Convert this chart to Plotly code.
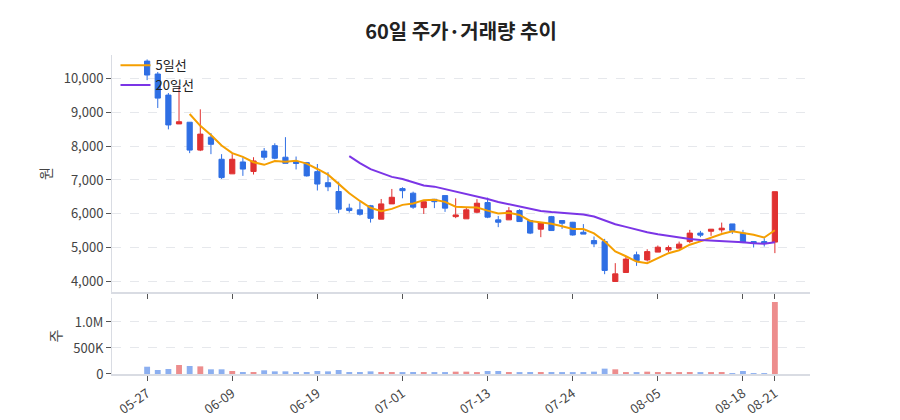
import plotly.graph_objects as go

# 60 trading days (MM-DD)
dates = ['05-27', '05-28', '05-29', '05-30', '06-02', '06-03', '06-04', '06-05', '06-09',
         '06-10', '06-11', '06-12', '06-13', '06-16', '06-17', '06-18', '06-19',
         '06-20', '06-23', '06-24', '06-25', '06-26', '06-27', '06-30', '07-01',
         '07-02', '07-03', '07-04', '07-07', '07-08', '07-09', '07-10', '07-13',
         '07-14', '07-15', '07-16', '07-17', '07-18', '07-21', '07-22', '07-24',
         '07-25', '07-28', '07-29', '07-30', '07-31', '08-01', '08-04', '08-05',
         '08-06', '08-07', '08-08', '08-11', '08-12', '08-13', '08-14', '08-18',
         '08-19', '08-20', '08-21']

opens = [10500, 10120, 9500, 8650, 8700, 7880, 8260, 7610, 7180, 7530,
         7250, 7850, 8010, 7670, 7545, 7510, 7245, 6920, 6660, 6170,
         6120, 6240, 5845, 6295, 6745, 6610, 6185, 6430, 6540, 5920,
         5855, 6050, 6335, 5825, 5825, 6100, 5805, 5550, 5920, 5805,
         5755, 5460, 5215, 5185, 4010, 4275, 4795, 4645, 4875, 4940,
         4990, 5185, 5435, 5490, 5530, 5705, 5435, 5185, 5185, 5170]
highs = [10550, 10180, 9560, 9780, 8700, 9080, 8380, 7760, 7760, 7660,
         7670, 7940, 8080, 8260, 7690, 7530, 7470, 7230, 6950, 6300,
         6360, 6265, 6440, 6735, 6785, 6655, 6360, 6440, 6540, 6460,
         6185, 6435, 6480, 5940, 6200, 6140, 5825, 5745, 5940, 5805,
         5765, 5700, 5335, 5265, 4550, 4730, 4890, 4960, 5070, 5070,
         5185, 5530, 5500, 5550, 5745, 5705, 5530, 5190, 5285, 6655]
lows = [9940, 9120, 8490, 8650, 7790, 7850, 7760, 7030, 7180, 7120,
        7160, 7590, 7610, 7490, 7310, 7100, 6690, 6670, 6020, 6040,
        5950, 5745, 5845, 6295, 6460, 6150, 6000, 6170, 6060, 5875,
        5855, 6020, 5875, 5610, 5825, 5775, 5405, 5315, 5500, 5560,
        5360, 5405, 5020, 4225, 4010, 4275, 4470, 4600, 4875, 4875,
        4990, 5140, 5315, 5355, 5450, 5410, 5140, 5010, 5040, 4845]
closes = [10090, 9410, 8620, 8715, 7880, 8350, 8050, 7070, 7610, 7320,
          7560, 7670, 7640, 7490, 7485, 7120, 6880, 6800, 6140, 6100,
          5990, 5870, 6295, 6490, 6685, 6200, 6360, 6360, 6170, 5970,
          6120, 6315, 5905, 5755, 6090, 5775, 5435, 5745, 5510, 5725,
          5380, 5405, 5120, 4335, 4235, 4670, 4625, 4890, 5020, 5010,
          5110, 5435, 5375, 5550, 5580, 5510, 5155, 5140, 5140, 6655]
volumes = [140000, 77000, 96000, 173000, 154000, 147000, 90000, 90000, 58000, 38000,
           38000, 71000, 51000, 51000, 38000, 38000, 58000, 51000, 77000, 38000,
           38000, 51000, 38000, 38000, 30000, 38000, 38000, 19000, 19000, 45000,
           45000, 19000, 58000, 58000, 38000, 19000, 38000, 38000, 38000, 19000,
           19000, 19000, 45000, 103000, 90000, 19000, 19000, 45000, 38000, 19000,
           19000, 38000, 19000, 19000, 38000, 8000, 58000, 8000, 15000, 1385000]

tick_dates = ['05-27', '06-09', '06-19', '07-01', '07-13', '07-24', '08-05', '08-18', '08-21']

UP = '#e03131'
DOWN = '#2f6fe4'
FONT = 'Noto Sans CJK KR'


def moving_average(values, n):
    # None until there are n values, like pandas rolling
    out = []
    for i in range(len(values)):
        if i < n - 1:
            out.append(None)
        else:
            out.append(sum(values[i - n + 1:i + 1]) / n)
    return out


ma5 = moving_average(closes, 5)
ma20 = moving_average(closes, 20)

vol_colors = [UP if c >= o else DOWN for o, c in zip(opens, closes)]

fig = go.Figure()

fig.add_trace(go.Candlestick(
    x=dates, open=opens, high=highs, low=lows, close=closes,
    increasing=dict(line=dict(color=UP, width=1), fillcolor=UP),
    decreasing=dict(line=dict(color=DOWN, width=1), fillcolor=DOWN),
    showlegend=False, xaxis='x', yaxis='y'
))
fig.add_trace(go.Scatter(
    x=dates, y=ma5, mode='lines', name='5일선',
    line=dict(color='#f59f00', width=2), xaxis='x', yaxis='y'
))
fig.add_trace(go.Scatter(
    x=dates, y=ma20, mode='lines', name='20일선',
    line=dict(color='#7b35e6', width=2), xaxis='x', yaxis='y'
))
fig.add_trace(go.Bar(
    x=dates, y=volumes, marker=dict(color=vol_colors, line=dict(width=0)),
    opacity=0.55, width=0.55, showlegend=False, xaxis='x2', yaxis='y2'
))

axis_common = dict(
    type='category', range=[-3.3, 62.3], automargin=False,
    tickmode='array', tickvals=tick_dates,
    showgrid=False, showline=True, linecolor='#d9dce3', linewidth=2,
    ticks='outside', ticklen=5, tickcolor='#555', tickwidth=1,
)
yaxis_common = dict(
    automargin=False, showgrid=True, gridcolor='#e6e8ec', griddash='dash', zeroline=False,
    showline=True, linecolor='#d9dce3', linewidth=1,
    ticks='outside', ticklen=5, tickcolor='#555', tickfont=dict(size=13),
)

# the page keeps an 8px body margin, so the figure is a bit smaller than the window
fig.update_layout(
    width=892, height=412,
    margin=dict(l=104, r=90, t=47, b=46),
    paper_bgcolor='white', plot_bgcolor='white',
    font=dict(family=FONT, size=13, color='#444'),
    title=dict(text='<b>60일 주가·거래량 추이</b>', x=0.5, xref='paper', xanchor='center',
               y=0.942, yanchor='middle', font=dict(size=20, color='#222')),
    showlegend=True,
    legend=dict(x=0.005, y=1.015, xanchor='left', yanchor='top', bgcolor='rgba(0,0,0,0)',
                font=dict(size=13, color='#222'), tracegroupgap=2),
    xaxis=dict(axis_common, anchor='y', showticklabels=False, rangeslider=dict(visible=False)),
    xaxis2=dict(axis_common, anchor='y2', matches='x', tickangle=-35,
                tickfont=dict(size=13, color='#444')),
    yaxis=dict(yaxis_common, domain=[0.257, 1.0], range=[3700, 10680], dtick=1000, tickformat=',',
               title=dict(text='원', standoff=8, font=dict(size=14))),
    yaxis2=dict(yaxis_common, domain=[0.0, 0.238], range=[0, 1460000],
                tickmode='array', tickvals=[0, 500000, 1000000], ticktext=['0', '500K', '1.0M'],
                title=dict(text='주', standoff=8, font=dict(size=14))),
    bargap=0.45,
)

fig.write_html('out.html')
